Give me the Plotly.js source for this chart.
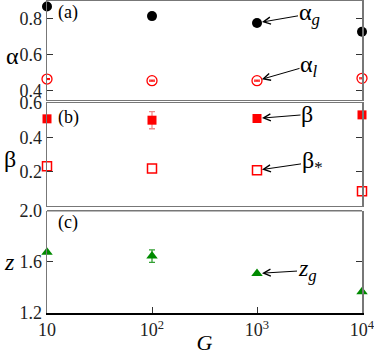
<!DOCTYPE html>
<html>
<head>
<meta charset="utf-8">
<script src="https://cdn.plot.ly/plotly-3.0.1.min.js"></script>
<style>
  html, body { margin: 0; padding: 0; background: #fff; }
  #plot { width: 374px; height: 355px; }
</style>
</head>
<body>
<div id="plot"></div>
<script>
// G values (x axis, log)
var G = [10, 100, 1000, 10000];
var xTickVals = [10, 100, 1000, 10000];
var xTickText = ["10", "10<sup>2</sup>", "10<sup>3</sup>", "10<sup>4</sup>"];

// panel (a)
var alphaG = [0.869, 0.816, 0.778, 0.729];
var alphaL = [0.466, 0.457, 0.457, 0.470];
var alphaLErr = [0.003, 0.003, 0.003, 0.003];

// panel (b)
var beta = [0.508, 0.500, 0.510, 0.531];
var betaErr = [0, 0.05, 0, 0];
var betaStar = [0.231, 0.218, 0.208, 0.086];

// panel (c)
var zG = [1.675, 1.645, 1.509, 1.367];
var zErr = [0, 0.049, 0, 0];

var serif = "Liberation Serif";
var frame = "#777";

var traces = [
  { x: G, y: alphaG, xaxis: "x2", yaxis: "y", mode: "markers", cliponaxis: false,
    marker: { symbol: "circle", size: 10, color: "black" } },
  { x: G, y: alphaL, xaxis: "x2", yaxis: "y", mode: "markers", cliponaxis: false,
    marker: { symbol: "circle-open", size: 10, color: "red", line: { width: 1.3 } },
    error_y: { type: "data", array: alphaLErr, color: "red", thickness: 1, width: 3 } },
  { x: G, y: beta, xaxis: "x3", yaxis: "y2", mode: "markers", cliponaxis: false,
    marker: { symbol: "square", size: 9, color: "red" },
    error_y: { type: "data", array: betaErr, color: "#f08a8a", thickness: 1.3, width: 3 } },
  { x: G, y: betaStar, xaxis: "x3", yaxis: "y2", mode: "markers", cliponaxis: false,
    marker: { symbol: "square-open", size: 9, color: "red", line: { width: 1.5 } } },
  { x: G, y: zG, xaxis: "x", yaxis: "y3", mode: "markers", cliponaxis: false,
    marker: { symbol: "triangle-up", size: 10, color: "#008a00" },
    error_y: { type: "data", array: zErr, color: "#33a033", thickness: 1.3, width: 3 } }
];

function yax(domain, range, vals) {
  return {
    domain: domain, range: range, tickvals: vals,
    ticktext: vals.map(function (v) { return v.toFixed(1); }),
    ticks: "inside", ticklen: 6, tickcolor: "#333", tickwidth: 1,
    showline: true, linecolor: frame, linewidth: 1.5, mirror: "ticks",
    showgrid: false, zeroline: false, ticklabeloverflow: "allow",
    tickfont: { family: serif, size: 18, color: "#222" }
  };
}
function xtop(anchor) {
  return {
    type: "log", range: [1, 4], anchor: anchor, matches: "x",
    showticklabels: false, ticks: "", showline: true, linecolor: frame,
    linewidth: 1.5, mirror: true, showgrid: false, zeroline: false
  };
}

var ann = [];
function arrow(yref, xv, yv, txt, ax, ay) {
  ann.push({
    xref: "x", yref: yref, x: Math.log10(xv), y: yv, text: txt,
    showarrow: true, arrowhead: 5, arrowsize: 1.4, arrowwidth: 1, arrowcolor: "black",
    standoff: 5, ax: ax, ay: ay, borderpad: 0,
    font: { family: serif, size: 24, color: "black" }
  });
}
arrow("y", G[2], alphaG[2], "\u03b1<sub><i>g</i></sub>", 52, -9);
arrow("y", G[2], alphaL[2], "\u03b1<sub><i>l</i></sub>", 52, -15);
arrow("y2", G[2], beta[2], "\u03b2", 50, -4);
arrow("y2", G[2], betaStar[2], "\u03b2<sub>*</sub>", 55, -8);
arrow("y3", G[2], zG[2], "<i>z</i><sub><i>g</i></sub>", 50, -3);

function label(txt, x, y, size, italic) {
  ann.push({ xref: "paper", yref: "paper", x: x, y: y, text: italic ? "<i>" + txt + "</i>" : txt,
    showarrow: false, xanchor: "center", yanchor: "middle",
    font: { family: serif, size: size, color: "black" } });
}
label("(a)", 0.068, 0.963, 18);
label("(b)", 0.068, 0.627, 18);
label("(c)", 0.068, 0.29, 18);
label("\u03b1", -0.11, 0.825, 24);
label("\u03b2", -0.118, 0.495, 24);
label("z", -0.12, 0.163, 24, true);

var layout = {
  width: 374, height: 355,
  margin: { l: 47, r: 12, t: 1, b: 42 },
  showlegend: false,
  paper_bgcolor: "white", plot_bgcolor: "white",
  xaxis: {
    type: "log", range: [1, 4], anchor: "y3",
    tickvals: xTickVals, ticktext: xTickText,
    ticks: "inside", ticklen: 6, tickcolor: "#333",
    showline: true, linecolor: "black", linewidth: 1.5, mirror: false,
    showgrid: false, zeroline: false, ticklabeloverflow: "allow",
    tickfont: { family: serif, size: 18, color: "#222" },
    title: { text: "<i>G</i>", font: { family: serif, size: 22, color: "black" }, standoff: 2 }
  },
  xaxis2: xtop("y"),
  xaxis3: xtop("y2"),
  yaxis: yax([0.683, 1.0], [0.35, 0.9], [0.4, 0.6, 0.8]),
  yaxis2: yax([0.343, 0.673], [0, 0.6001], [0.2, 0.4, 0.6]),
  yaxis3: yax([0, 0.328], [1.1999, 2.0001], [1.2, 1.6, 2.0]),
  shapes: [
    { type: "line", xref: "paper", yref: "paper", x0: 0, x1: 1, y0: 0.328, y1: 0.328,
      line: { color: frame, width: 1.5 } }
  ],
  annotations: ann
};

Plotly.newPlot("plot", traces, layout, { displayModeBar: false, staticPlot: true });
</script>
</body>
</html>
